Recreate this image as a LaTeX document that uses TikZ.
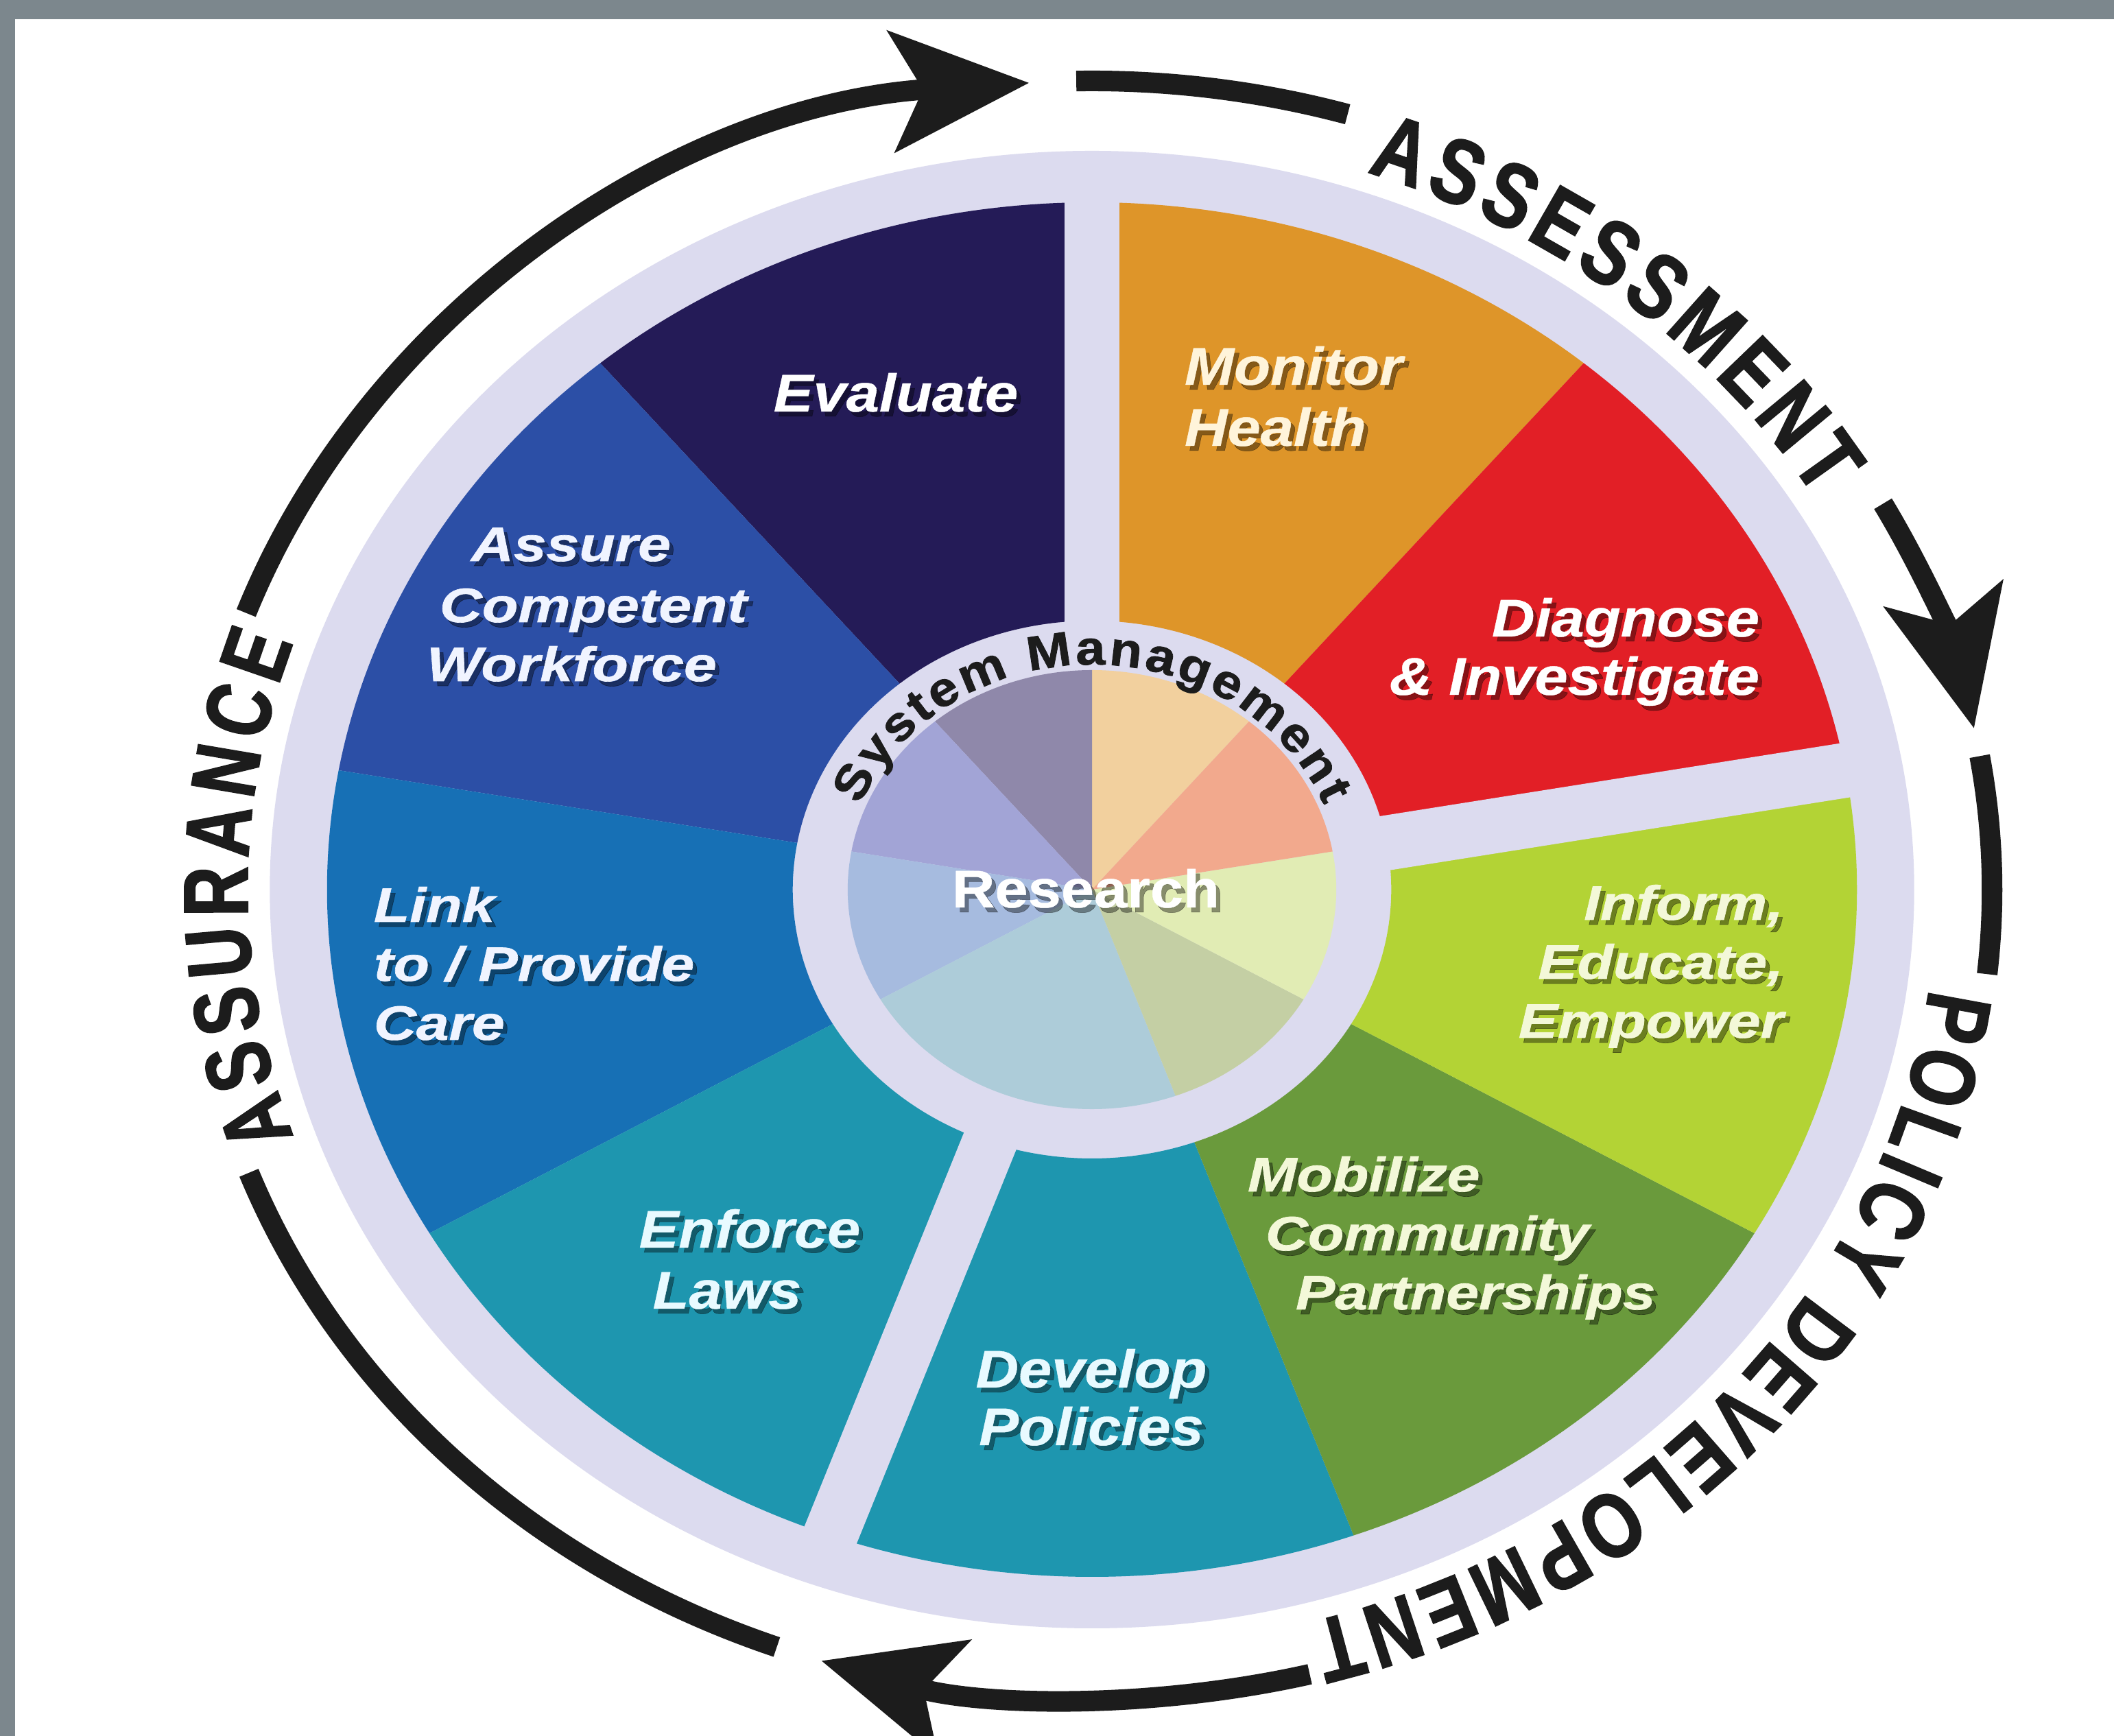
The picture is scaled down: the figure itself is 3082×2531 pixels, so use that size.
\documentclass[tikz,border=0pt]{standalone}
\usepackage{fontspec}
\setmainfont{Liberation Sans}
\newfontfamily\normfont[FakeStretch=1.12, FakeBold=0.6]{Liberation Sans}
\newfontfamily\widefont[FakeStretch=1.22, FakeBold=1.0]{Liberation Sans}
\newfontfamily\ringfont[FakeStretch=0.8, FakeBold=1.5]{Liberation Sans}
\newfontfamily\ringfontc[FakeStretch=0.76, FakeBold=1.5]{Liberation Sans}
\newfontfamily\smfont[FakeStretch=1.1, FakeBold=1.2]{Liberation Sans}
\usetikzlibrary{arrows.meta,decorations.text}
\definecolor{framegray}{HTML}{7C878D}
\definecolor{lav}{HTML}{DCDBEF}
\definecolor{ringblack}{HTML}{1C1C1C}
\definecolor{cEval}{HTML}{241B57}
\definecolor{cAssure}{HTML}{2C4FA6}
\definecolor{cLink}{HTML}{1770B5}
\definecolor{cTeal}{HTML}{1E96AF}
\definecolor{cMob}{HTML}{6A9A3C}
\definecolor{cInf}{HTML}{B3D335}
\definecolor{cDiag}{HTML}{E21F26}
\definecolor{cMon}{HTML}{DE9529}
\definecolor{pMon}{HTML}{F2D09E}
\definecolor{pEval}{HTML}{8F88AA}
\definecolor{pAssure}{HTML}{A2A4D6}
\definecolor{pLink}{HTML}{A6BBDF}
\definecolor{pTeal}{HTML}{ADCCD9}
\definecolor{pMob}{HTML}{C4CFA4}
\definecolor{pInf}{HTML}{E1ECB4}
\definecolor{pDiag}{HTML}{F2A98D}
\definecolor{tCream}{HTML}{FFF4DA}
\definecolor{tBlue}{HTML}{F0F4FF}
\definecolor{tCyan}{HTML}{E8FAFF}
\definecolor{tLime}{HTML}{F3F8D8}

\newcommand\wsector[3]{\fill[#1] (#2:1002) arc[start angle=#2, end angle=#3, radius=1002] -- (#3:392) arc[start angle=#3, end angle=#2, radius=392] -- cycle;}
\newcommand\wslice[3]{\fill[#1] (0,0) -- (#2:320) arc[start angle=#2, end angle=#3, radius=320] -- cycle;}

\tikzset{
  lblbase/.style={inner sep=0pt, outer sep=0pt},
  normlbl/.style={font=\normfont\bfseries\itshape\fontsize{22}{25}\selectfont},
  widelbl/.style={font=\widefont\bfseries\itshape\fontsize{20}{24}\selectfont},
  reslbl/.style={font=\normfont\bfseries\fontsize{22}{25}\selectfont},
  shadowA/.style={text=black, text opacity=0.4},
  ringline/.style={draw=ringblack, line width=0.3cm},
  ringtip/.style={-{Stealth[length=2.0cm, width=1.75cm, inset=0.45cm]}},
  gapline/.style={draw=lav, line width=0.8cm},
}

\newcommand\seglbl[7]{%
  \node[lblbase,#5,shadowA,anchor=#4] (#1-sa) at ({#2+6},{#3-7}) {#7};
  \node[lblbase,#5,text=#6,anchor=#4] (#1) at (#2,#3) {#7};}

\begin{document}
\begin{tikzpicture}[x=0.01cm, y=0.01cm]
\useasboundingbox (0,0) rectangle (3082,2531);
\fill[framegray] (0,0) rectangle (3082,2531);
\fill[white] (22,0) rectangle (3082,2503);

\begin{scope}[shift={(1592,1234)}, xscale=1.113]
  \fill[lav] (0,0) circle[radius=1077];
  % outer segments
  \wsector{cMon}{50}{90}
  \wsector{cEval}{90}{130}
  \wsector{cAssure}{130}{170}
  \wsector{cLink}{170}{210}
  \wsector{cTeal}{210}{250}
  \wsector{cTeal}{250}{290}
  \wsector{cMob}{290}{330}
  \wsector{cInf}{330}{370}
  \wsector{cDiag}{10}{50}
  % gaps
  \draw[gapline] (90:380) -- (90:1010);
  \draw[gapline] (10:380) -- (10:1010);
  \draw[gapline] (250:380) -- (250:1010);
  % inner pie
  \wslice{pMon}{50}{90}
  \wslice{pEval}{90}{130}
  \wslice{pAssure}{130}{170}
  \wslice{pLink}{170}{210}
  \wslice{pTeal}{210}{290}
  \wslice{pMob}{290}{330}
  \wslice{pInf}{330}{370}
  \wslice{pDiag}{10}{50}
  % outer ring with arrows
  \draw[ringline, ringtip] (160:1179) arc[start angle=160, end angle=94, radius=1179];
  \draw[ringline] (91:1179) arc[start angle=91, end angle=73.5, radius=1179];
  \draw[ringline, ringtip] (28.5:1179) arc[start angle=28.5, end angle=11.5, radius=1179];
  \draw[ringline] (9.5:1179) arc[start angle=9.5, end angle=-6, radius=1179];
  \draw[ringline, ringtip] (-76:1179) arc[start angle=-76, end angle=-107.5, radius=1179];
  \draw[ringline] (249.5:1179) arc[start angle=249.5, end angle=200.5, radius=1179];
  % ring texts
  \path[decorate, decoration={text along path, text color=ringblack,
      text={|\ringfont\bfseries\fontsize{38}{38}\selectfont|ASSESSMENT},
      text align={fit to path}}]
    (71:1106) arc[start angle=71, end angle=31, radius=1106];
  \path[decorate, decoration={text along path, text color=ringblack,
      text={|\ringfont\bfseries\fontsize{38}{38}\selectfont|POLICY DEVELOPMENT},
      text align={fit to path}}]
    (-7.5:1106) arc[start angle=-7.5, end angle=-75, radius=1106];
  \path[decorate, decoration={text along path, text color=ringblack,
      text={|\ringfontc\bfseries\fontsize{38}{38}\selectfont|ASSURANCE},
      text align={fit to path}}]
    (199:1106) arc[start angle=199, end angle=161, radius=1106];
  \path[decorate, decoration={text along path, text color=ringblack,
      text={|\smfont\bfseries\fontsize{20}{20}\selectfont|System Management},
      text align={fit to path}}]
    (158:328) arc[start angle=158, end angle=22, radius=328];
\end{scope}

% segment labels
\seglbl{eval}{1306}{1931}{base}{normlbl}{white}{Evaluate}
\seglbl{mon1}{1727}{1970}{base west}{normlbl}{tCream}{Monitor}
\seglbl{mon2}{1727}{1881}{base west}{normlbl}{tCream}{Health}
\seglbl{diag1}{2565}{1603}{base east}{normlbl}{white}{Diagnose}
\seglbl{diag2}{2565}{1518}{base east}{normlbl}{white}{\& Investigate}
\seglbl{asr1}{687}{1713}{base west}{widelbl}{tBlue}{Assure}
\seglbl{asr2}{641}{1624}{base west}{widelbl}{tBlue}{Competent}
\seglbl{asr3}{622}{1538}{base west}{widelbl}{tBlue}{Workforce}
\seglbl{lnk1}{545}{1187}{base west}{widelbl}{tBlue}{Link}
\seglbl{lnk2}{545}{1101}{base west}{widelbl}{tBlue}{to / Provide}
\seglbl{lnk3}{545}{1015}{base west}{widelbl}{tBlue}{Care}
\seglbl{enf1}{1093}{712}{base}{normlbl}{tCyan}{Enforce}
\seglbl{enf2}{1060}{623}{base}{normlbl}{tCyan}{Laws}
\seglbl{dev1}{1591}{508}{base}{normlbl}{tCyan}{Develop}
\seglbl{dev2}{1591}{424}{base}{normlbl}{tCyan}{Policies}
\seglbl{inf1}{2600}{1190}{base east}{widelbl}{tLime}{Inform,}
\seglbl{inf2}{2600}{1104}{base east}{widelbl}{tLime}{Educate,}
\seglbl{inf3}{2600}{1018}{base east}{widelbl}{tLime}{Empower}
\seglbl{mob1}{1819}{794}{base west}{widelbl}{tLime}{Mobilize}
\seglbl{mob2}{1845}{708}{base west}{widelbl}{tLime}{Community}
\seglbl{mob3}{1889}{622}{base west}{widelbl}{tLime}{Partnerships}
\seglbl{res}{1583}{1208}{base}{reslbl}{white}{Research}
\end{tikzpicture}
\end{document}
